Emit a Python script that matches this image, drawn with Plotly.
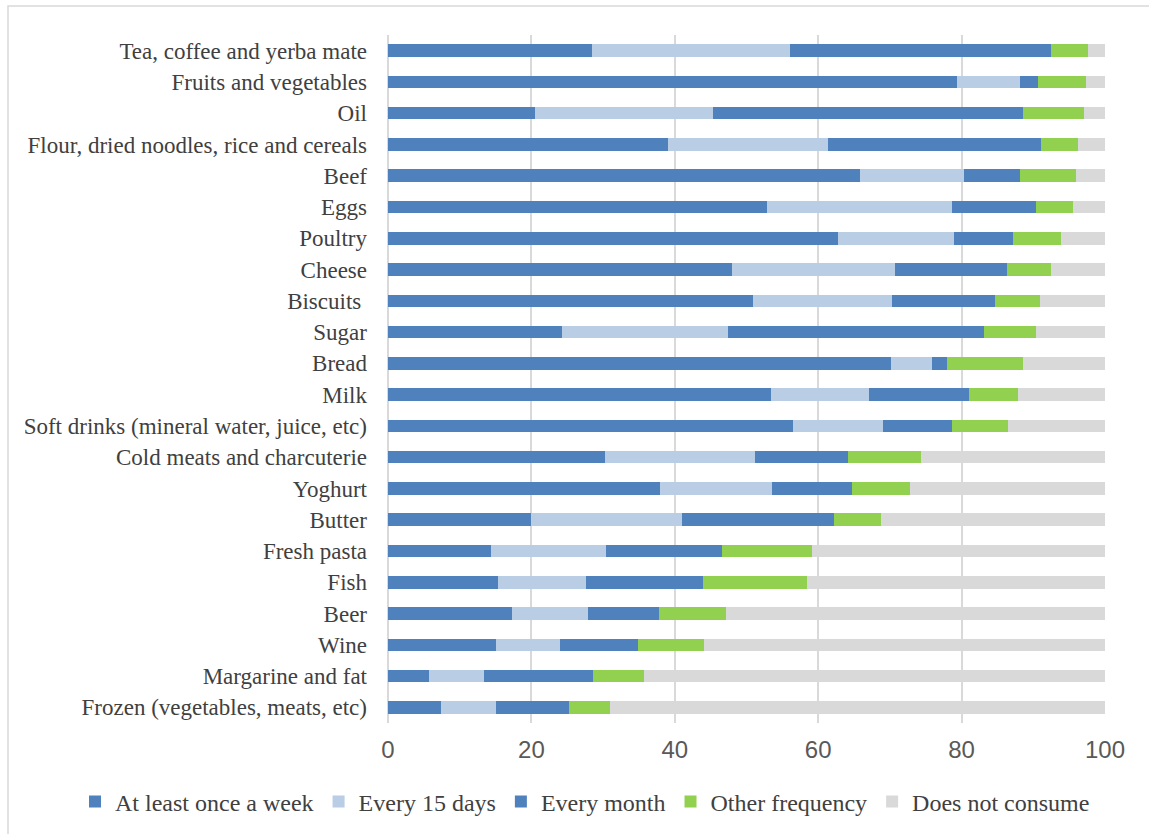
import plotly.graph_objects as go

categories = [
    "Tea, coffee and yerba mate", "Fruits and vegetables", "Oil",
    "Flour, dried noodles, rice and cereals", "Beef", "Eggs", "Poultry",
    "Cheese", "Biscuits ", "Sugar", "Bread", "Milk",
    "Soft drinks (mineral water, juice, etc)", "Cold meats and charcuterie",
    "Yoghurt", "Butter", "Fresh pasta", "Fish", "Beer", "Wine",
    "Margarine and fat", "Frozen (vegetables, meats, etc)",
]

at_least_weekly = [28.4, 79.3, 20.5, 39.0, 65.8, 52.8, 62.8, 48.0, 50.9, 24.3, 70.1,
                   53.4, 56.5, 30.2, 38.0, 20.0, 14.4, 15.4, 17.3, 15.0, 5.7, 7.4]
every_15_days = [27.6, 8.8, 24.8, 22.4, 14.5, 25.8, 16.2, 22.7, 19.4, 23.1, 5.8,
                 13.7, 12.6, 21.0, 15.6, 21.0, 16.0, 12.2, 10.6, 9.0, 7.7, 7.6]
every_month = [36.4, 2.6, 43.3, 29.7, 7.9, 11.8, 8.2, 15.7, 14.3, 35.7, 2.0,
               13.9, 9.5, 13.0, 11.1, 21.2, 16.2, 16.3, 9.9, 10.9, 15.2, 10.3]
other_frequency = [5.2, 6.7, 8.5, 5.2, 7.7, 5.1, 6.7, 6.1, 6.3, 7.3, 10.7,
                   6.9, 7.9, 10.2, 8.1, 6.6, 12.6, 14.5, 9.4, 9.2, 7.1, 5.7]
does_not_consume = [2.4, 2.6, 2.9, 3.7, 4.1, 4.5, 6.1, 7.5, 9.1, 9.6, 11.4,
                    12.1, 13.5, 25.6, 27.2, 31.2, 40.8, 41.6, 52.8, 55.9, 64.3, 69.0]

series_names = ["At least once a week", "Every 15 days", "Every month",
                "Other frequency", "Does not consume"]
series_values = [at_least_weekly, every_15_days, every_month, other_frequency, does_not_consume]
colors = ["#4F81BD", "#B9CDE5", "#4F81BD", "#92D050", "#D9D9D9"]

W, H = 1149, 834
ML, MR, MT, MB = 388, 44, 35, 111
PW, PH = W - ML - MR, H - MT - MB

fig = go.Figure()
for name, vals, col in zip(series_names, series_values, colors):
    fig.add_trace(go.Bar(
        y=categories, x=vals, name=name, orientation="h",
        marker=dict(color=col, line=dict(width=0)),
    ))

fig.update_layout(
    width=W, height=H,
    barmode="stack", bargap=0.6,
    paper_bgcolor="white", plot_bgcolor="white",
    margin=dict(l=ML, r=MR, t=MT, b=MB, autoexpand=False),
    font=dict(family="Liberation Serif", color="#404040"),
    xaxis=dict(
        range=[0, 100], tickvals=[0, 20, 40, 60, 80, 100],
        showgrid=True, gridcolor="#D9D9D9", gridwidth=1.5,
        zeroline=True, zerolinecolor="#D9D9D9", zerolinewidth=1.5,
        tickfont=dict(family="Liberation Sans", size=24, color="#595959"),
        ticks="", showline=False, ticklabelstandoff=10, automargin=False,
    ),
    yaxis=dict(
        autorange="reversed", categoryorder="array", categoryarray=categories,
        tickfont=dict(family="Liberation Serif", size=23, color="#404040"),
        ticks="", ticklabelstandoff=20, showgrid=False, automargin=False,
    ),
    legend=dict(
        orientation="h", xref="paper", yref="paper",
        x=(75 - ML) / PW, xanchor="left", y=-(802 - (H - MB)) / PH, yanchor="middle",
        traceorder="normal", itemwidth=30,
        font=dict(family="Liberation Serif", size=24, color="#404040"),
    ),
    shapes=[dict(type="rect", xref="paper", yref="paper",
                 x0=(8 - ML) / PW, x1=(W + 20 - ML) / PW,
                 y0=-(MB + 20) / PH, y1=1 + (MT - 6) / PH,
                 line=dict(color="#D9D9D9", width=1.5), fillcolor="rgba(0,0,0,0)",
                 layer="below")],
)

fig.write_html("out.html")
